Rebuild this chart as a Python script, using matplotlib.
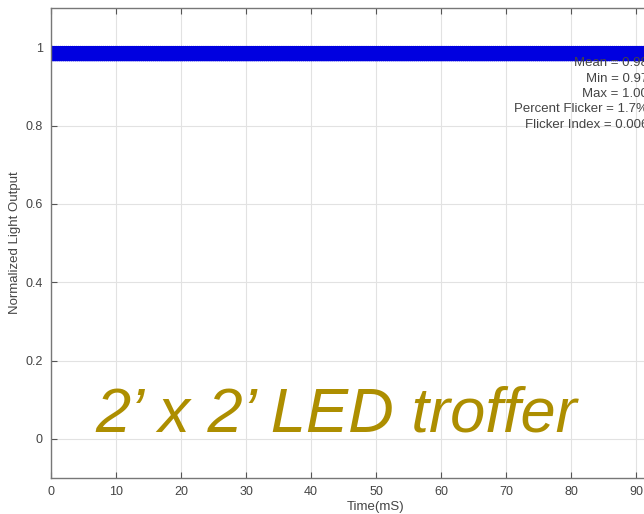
import numpy as np
import matplotlib.pyplot as plt

plt.rcParams['font.family'] = ['Liberation Sans', 'DejaVu Sans']

# one ripple cycle of the normalized light output, repeated over the record
ripple_cycle = [1.000, 0.988, 0.972, 0.967, 0.975, 0.991]
sample_step = 0.05  # ms
t_end = 100.0

stats_lines = ['Mean = 0.98', 'Min = 0.97', 'Max = 1.00',
               'Percent Flicker = 1.7%', 'Flicker Index = 0.006']
xticks = [0, 10, 20, 30, 40, 50, 60, 70, 80, 90, 100]
yticks = [0, 0.2, 0.4, 0.6, 0.8, 1]

n = int(t_end / sample_step) + 1
time_ms = np.arange(n) * sample_step
light = np.resize(np.array(ripple_cycle), n)

fig = plt.figure(figsize=(6.44, 5.14), dpi=100)
ax = fig.add_axes([51 / 644, 36 / 514, 650 / 644, 470 / 514])

ax.plot(time_ms, light, color='#0000e0', lw=2.0)

ax.set_xlim(0, 100)
ax.set_ylim(-0.1, 1.1)
ax.set_xticks(xticks)
ax.set_yticks(yticks)
ax.set_yticklabels(['0', '0.2', '0.4', '0.6', '0.8', '1'])
ax.grid(True, color='#e2e2e2', lw=0.8)
ax.tick_params(direction='in', length=4, top=True, right=True,
               labelsize=9, colors='#555555', labelcolor='#444444', pad=6)
for s in ax.spines.values():
    s.set_color('#777777')
    s.set_linewidth(1.0)

ax.set_xlabel('Time(mS)', fontsize=9.5, color='#444444', labelpad=2)
ax.set_ylabel('Normalized Light Output', fontsize=9.5, color='#444444', labelpad=3)

# summary statistics, right aligned near the right edge
for i, line in enumerate(stats_lines):
    fig.text(648 / 644, 1 - (63 + i * 15.5) / 514, line, ha='right', va='center',
             fontsize=9.5, color='#444444')

fig.text(95 / 644, 1 - 432 / 514, '2\u2019 x 2\u2019 LED troffer', ha='left',
         va='baseline', fontsize=45.5, style='italic', color='#ad8e00')

fig.savefig('out.png', dpi=100)
